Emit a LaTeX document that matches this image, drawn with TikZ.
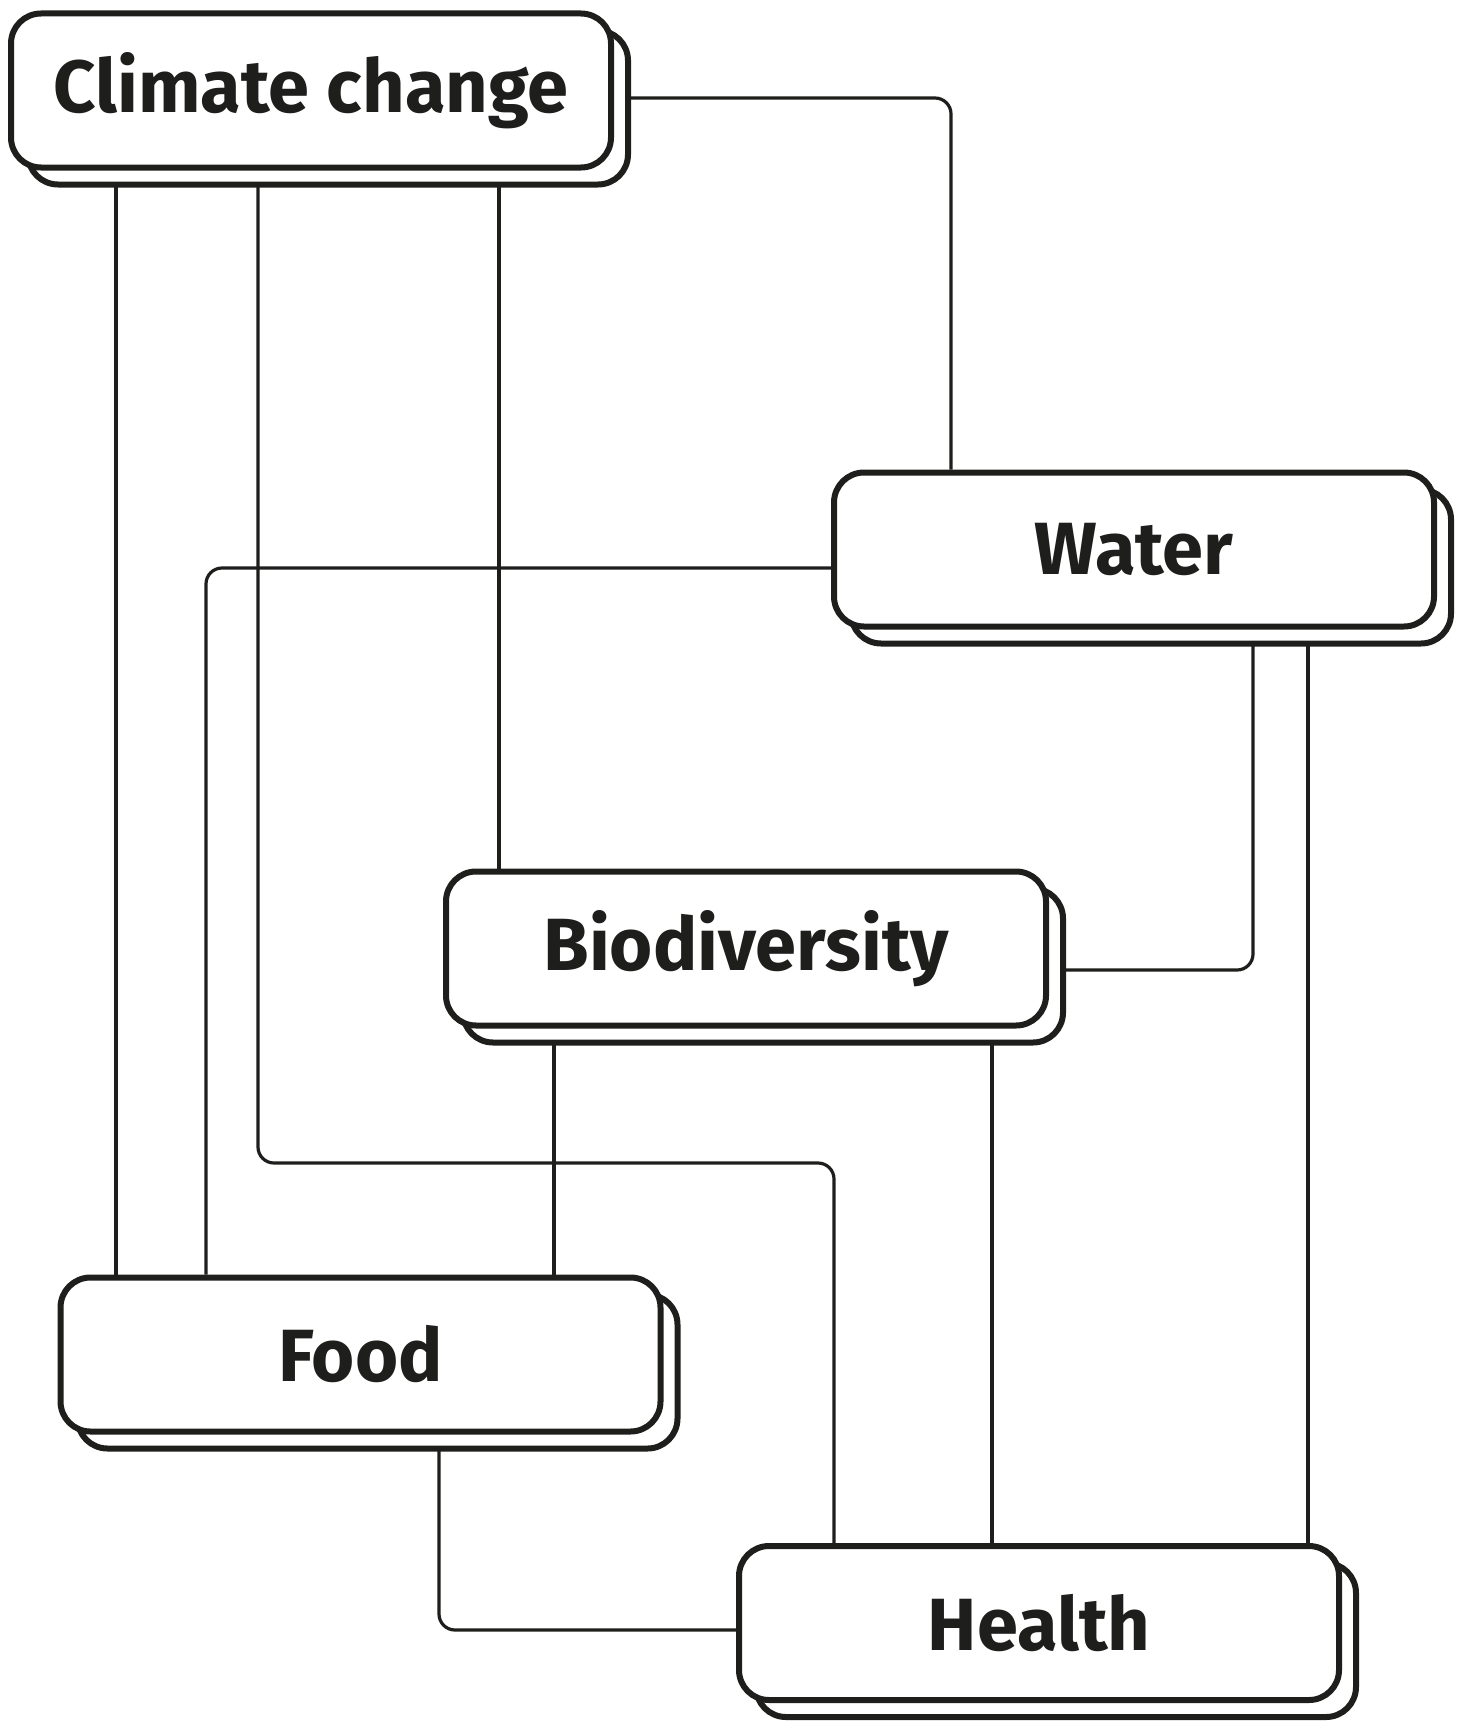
\documentclass[tikz,border=0pt]{standalone}
\usepackage{fontspec}
\setmainfont{Fira Sans}
\usetikzlibrary{shadows,backgrounds}
\definecolor{inkdark}{HTML}{1E1E1C}
\begin{document}
\begin{tikzpicture}[x=0.5pt,y=-0.5pt,
    topic/.style={draw=inkdark,fill=white,line width=3pt,rounded corners=15pt,
      minimum width=300pt,minimum height=77pt,inner sep=0pt,
      text=inkdark,font=\fontsize{37}{40}\selectfont\bfseries,
      copy shadow={shadow xshift=8.5pt,shadow yshift=-8.5pt,fill=white,draw=inkdark,line width=3pt}},
    link/.style={draw=inkdark,line width=1.6pt,rounded corners=8pt}]
  \useasboundingbox (0,0) rectangle (1464,1734);
  \node[topic] (climate) at (311,90.5) {Climate change};
  \node[topic] (water) at (1134,549.5) {Water};
  \node[topic] (bio) at (746,948.5) {Biodiversity};
  \node[topic] (food) at (360.5,1354.5) {Food};
  \node[topic] (health) at (1039,1623) {Health};
  \coordinate (hbend) at (500,1163);
  \begin{scope}[on background layer]
    % from climate change
    \draw[link] ([yshift=-3.75pt]climate.east) -| ([xshift=-91.5pt]water.north);
    \draw[link] ([xshift=-97.5pt]climate.south) -- ([xshift=-122.25pt]food.north);
    \draw[link] ([xshift=-26.5pt]climate.south) |- (hbend) -| ([xshift=-102.5pt]health.north);
    \draw[link] ([xshift=94pt]climate.south) -- ([xshift=-123.5pt]bio.north);
    % from water
    \draw[link] ([yshift=-9.25pt]water.west) -| ([xshift=-77.25pt]food.north);
    \draw[link] ([xshift=59.5pt]water.south) |- ([yshift=-10.75pt]bio.east);
    \draw[link] ([xshift=87pt]water.south) -- ([xshift=134.5pt]health.north);
    % from biodiversity and food
    \draw[link] ([xshift=-96pt]bio.south) -- ([xshift=96.75pt]food.north);
    \draw[link] ([xshift=123pt]bio.south) -- ([xshift=-23.5pt]health.north);
    \draw[link] ([xshift=39.25pt]food.south) |- ([yshift=-3.5pt]health.west);
  \end{scope}
\end{tikzpicture}
\end{document}
